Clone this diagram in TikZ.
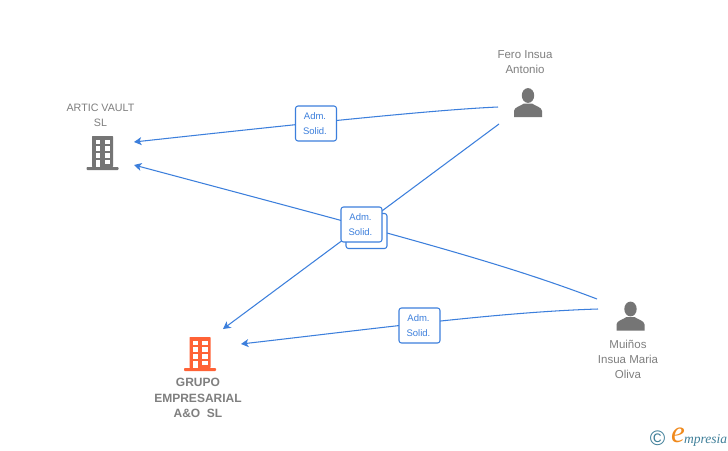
\documentclass[tikz,border=0pt]{standalone}
\usepackage{fontspec}
\setmainfont{Liberation Sans}
\newfontfamily\logofont{Liberation Serif}
\usetikzlibrary{arrows.meta}
\definecolor{linkblue}{HTML}{3C7FDC}
\definecolor{icongray}{HTML}{757575}
\definecolor{labelgray}{HTML}{7F7F7F}
\definecolor{iconorange}{HTML}{FF6236}
\definecolor{logoteal}{HTML}{3F7F99}
\definecolor{logoorange}{HTML}{F08A1D}
\tikzset{
  x=1pt,y=-1pt,
  link/.style={draw=linkblue,line width=1.05pt},
  arrowlink/.style={link,-{Stealth[length=7.5pt,width=8pt,inset=2pt]}},
  badge/.style={draw=linkblue,fill=white,line width=1.05pt,rounded corners=2.5pt,minimum width=41pt,minimum height=35pt,inner sep=0pt,align=center,text=linkblue,font=\fontsize{9.5}{15.5}\selectfont},
  label/.style={text=labelgray,align=center,inner sep=0pt,font=\fontsize{11.5}{15}\selectfont},
  smalllabel/.style={label,font=\fontsize{10.7}{15}\selectfont},
  boldlabel/.style={label,font=\bfseries\fontsize{12}{15.5}\selectfont},
  pics/building/.style={code={
    \fill[#1,rounded corners=0.6pt] (-10.5,-16) rectangle (10.5,15);
    \fill[#1,rounded corners=0.8pt] (-16,15) rectangle (16,18);
    \foreach \yy in {-12.2,-5.6,1.1}{
      \fill[white] (-7,\yy) rectangle (-2.3,\yy+4.6);
      \fill[white] (2.3,\yy) rectangle (7.7,\yy+4.6);
    }
    \fill[white] (2.3,7.8) rectangle (7.7,12.4);
    \fill[white] (-7,7.8) rectangle (-2.3,15);
  }},
  pics/person/.style={code={
    \fill[icongray] (0,-7) ellipse (6.2pt and 7.4pt);
    \fill[icongray] (-14,14.5) -- (-14,8.5) .. controls (-14,4.5) and (-7,3.5) .. (-4,1)
      -- (4,1) .. controls (7,3.5) and (14,4.5) .. (14,8.5) -- (14,14.5) -- cycle;
  }}
}
\begin{document}
\begin{tikzpicture}
\useasboundingbox (0,0) rectangle (728,450);
\fill[white] (0,0) rectangle (728,450);

% Anchors
\coordinate (feroA) at (498,107);
\coordinate (feroB) at (499,124);
\coordinate (muinosA) at (597,299);
\coordinate (muinosB) at (598,309);
\coordinate (articA) at (134,142);
\coordinate (articB) at (134,165);
\coordinate (grupoA) at (223,329);
\coordinate (grupoB) at (241,344);

% Connectors under the badges
\draw[arrowlink] (feroA) .. controls (430,110) and (290,125) .. (articA);
\draw[arrowlink] (feroB) -- (grupoA);
\draw[arrowlink] (muinosA) .. controls (500,262) and (400,236) .. (articB);
\draw[arrowlink] (muinosB) .. controls (500,312) and (380,328) .. (grupoB);

% Badges
\node[badge] (badgeTop) at (316,123.5) {Adm.\hspace*{2pt}\\Solid.\hspace*{2pt}};
\node[badge] (badgeBack) at (366.5,231) {};
\node[badge] (badgeMid) at (361.5,224.5) {Adm.\hspace*{2pt}\\Solid.\hspace*{2pt}};
\node[badge] (badgeLow) at (419.5,325.5) {Adm.\hspace*{2pt}\\Solid.\hspace*{2pt}};

% Icons
\pic at (102.5,152) {building=icongray};
\pic at (200,353) {building=iconorange};
\pic at (528,102.5) {person};
\pic at (630.5,316) {person};

% Labels
\node[smalllabel] (lblArtic) at (100.5,115) {ARTIC VAULT\\SL};
\node[label] (lblFero) at (525,62.5) {Fero Insua\\Antonio};
\node[label] (lblMuinos) at (628,359) {Muiños\\Insua Maria\\Oliva};
\node[boldlabel] (lblGrupo) at (198,398) {GRUPO\\EMPRESARIAL\\A\&O\ \ SL};

% Logo
\node[text=logoteal,inner sep=0pt,font=\fontsize{21}{21}\selectfont] (logoC) at (657.5,438.5) {©};
\node[text=logoorange,inner sep=0pt,font=\logofont\itshape\fontsize{31}{31}\selectfont] (logoE) at (678,435) {e};
\node[text=logoteal,inner sep=0pt,anchor=west,font=\logofont\itshape\fontsize{13.5}{14}\selectfont] (logoT) at (684,440) {mpresia};
\end{tikzpicture}
\end{document}
